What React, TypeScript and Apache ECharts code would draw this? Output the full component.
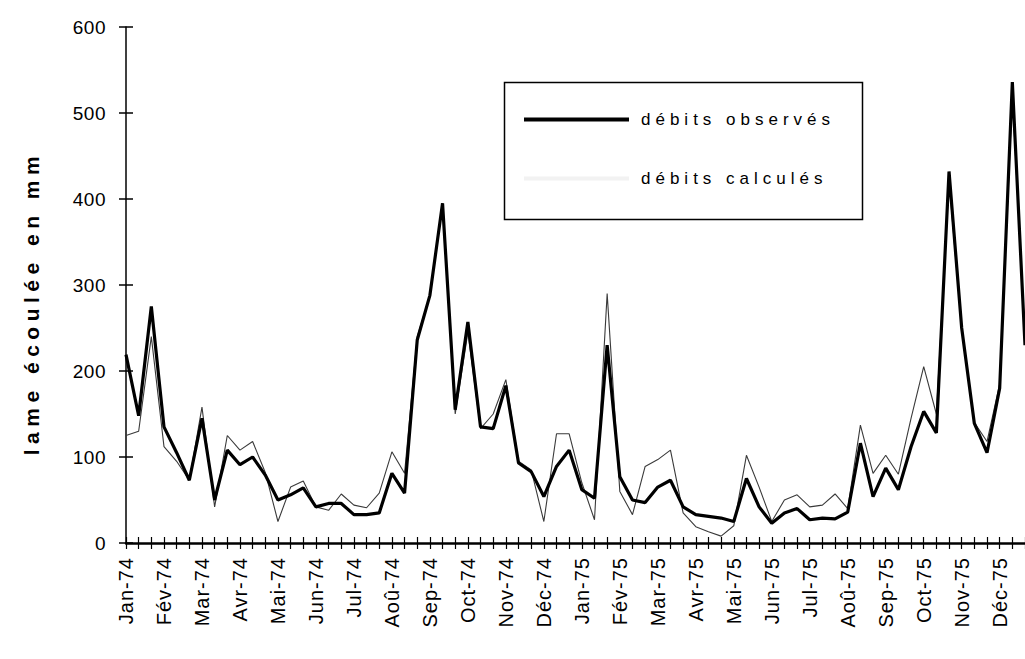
import React, { useEffect, useRef } from "react";
import * as echarts from "echarts";

const months = ["Jan", "Fév", "Mar", "Avr", "Mai", "Jun", "Jul", "Aoû", "Sep", "Oct", "Nov", "Déc"];
const years = ["74", "75"];
const dekads = [1, 2, 3];
const yTicks = [0, 100, 200, 300, 400, 500, 600];

// lame écoulée (mm) par décade
const observes = [
  219, 148, 275, 135, 105, 73, 145, 50, 108, 91, 100, 79,
  50, 56, 64, 42, 46, 46, 33, 33, 35, 81, 58, 236,
  288, 395, 155, 257, 135, 133, 183, 93, 83, 54, 89, 108,
  62, 52, 230, 77, 50, 47, 65, 73, 42, 33, 31, 29,
  25, 75, 42, 23, 35, 40, 27, 29, 28, 36, 116, 54,
  87, 62, 112, 153, 128, 432, 250, 139, 105, 180, 536, 230,
];
const calcules = [
  125, 130, 240, 112, 95, 73, 158, 42, 125, 108, 118, 82,
  25, 65, 72, 42, 38, 57, 44, 41, 58, 106, 81, 240,
  288, 395, 150, 245, 133, 150, 190, 95, 85, 25, 127, 127,
  70, 27, 290, 60, 33, 89, 97, 108, 35, 19, 13, 8,
  20, 102, 65, 25, 50, 56, 42, 44, 57, 40, 137, 81,
  102, 80, 145, 205, 150, 420, 250, 140, 118, 185, 520, 240,
];

const categories: string[] = [];
years.forEach((y) =>
  months.forEach((m) =>
    dekads.forEach((d) => categories.push(d === 1 ? `${m}-${y}` : `${m}-${y} d${d}`))
  )
);

const FONT = "'Liberation Sans', Arial, Helvetica, sans-serif";
const Y_NAME = "lame écoulée en mm";

export default function App() {
  const ref = useRef<HTMLDivElement>(null);
  useEffect(() => {
    if (!ref.current) return;
    const chart = echarts.init(ref.current, null, { renderer: "svg" });
    const spaceTexts = () => {
      const root = ref.current;
      if (!root) return;
      root.querySelectorAll("text").forEach((t) => {
        const s = t.textContent || "";
        if (s === Y_NAME) {
          t.setAttribute("letter-spacing", "5.5");
          t.setAttribute("dx", "-18");
        } else if (s.startsWith("débits")) t.setAttribute("letter-spacing", "5");
        else if (/-\d\d$/.test(s)) t.setAttribute("letter-spacing", "1");
        else if (/^\d+$/.test(s)) t.setAttribute("letter-spacing", "0.5");
      });
    };
    chart.on("finished", spaceTexts);
    chart.setOption({
      animation: false,
      backgroundColor: "#ffffff",
      grid: { left: 126, right: -5, top: 27, bottom: 116, containLabel: false },
      legend: {
        orient: "vertical",
        left: 519,
        top: 106,
        icon: "rect",
        itemWidth: 105,
        itemHeight: 4,
        itemGap: 42,
        textStyle: { fontSize: 17, fontFamily: FONT, color: "#000", padding: [0, 0, 0, 7] },
        data: [
          { name: "débits observés", itemStyle: { color: "#000" } },
          { name: "débits calculés", itemStyle: { color: "#f2f2f2" } },
        ],
      },
      graphic: [
        {
          type: "rect",
          left: 502,
          top: 80,
          shape: { width: 358, height: 137 },
          style: { fill: "none", stroke: "#000", lineWidth: 1.5 },
          z: 10,
        },
      ],
      xAxis: [
        {
          type: "category",
          data: categories,
          boundaryGap: false,
          position: "bottom",
          axisLine: { show: true, onZero: false, lineStyle: { color: "#000", width: 2.5 } },
          axisTick: { show: true, interval: 0, length: 6, lineStyle: { color: "#000", width: 1.2 } },
          axisLabel: {
            interval: 2,
            rotate: 90,
            margin: 14,
            fontSize: 20,
            fontFamily: FONT,
            color: "#000",
          },
          splitLine: { show: false },
        },
        {
          type: "category",
          data: categories,
          boundaryGap: false,
          position: "bottom",
          axisLine: { show: false, onZero: false },
          axisTick: { show: true, inside: true, interval: 0, length: 6, lineStyle: { color: "#000", width: 1.2 } },
          axisLabel: { show: false },
          splitLine: { show: false },
        },
      ],
      yAxis: [
        {
          type: "value",
          min: yTicks[0],
          max: yTicks[yTicks.length - 1],
          interval: 100,
          position: "left",
          name: Y_NAME,
          nameLocation: "middle",
          nameRotate: 90,
          nameGap: 84,
          nameTextStyle: { fontSize: 21, fontFamily: FONT, color: "#000", fontWeight: "bold" },
          axisLine: { show: true, onZero: false, lineStyle: { color: "#000", width: 1.5 } },
          axisTick: { show: true, length: 7, lineStyle: { color: "#000", width: 1.5 } },
          axisLabel: { margin: 20, fontSize: 19, fontFamily: FONT, color: "#000" },
          splitLine: { show: false },
        },
        {
          type: "value",
          min: yTicks[0],
          max: yTicks[yTicks.length - 1],
          interval: 100,
          position: "left",
          axisLine: { show: false, onZero: false },
          axisTick: { show: true, inside: true, length: 7, lineStyle: { color: "#000", width: 1.5 } },
          axisLabel: { show: false },
          splitLine: { show: false },
        },
      ],
      series: [
        {
          name: "débits calculés",
          type: "line",
          data: calcules,
          symbol: "none",
          lineStyle: { color: "#3a3a3a", width: 1.1 },
          itemStyle: { color: "#3a3a3a" },
          z: 2,
        },
        {
          name: "débits observés",
          type: "line",
          data: observes,
          symbol: "none",
          lineStyle: { color: "#000", width: 3.2 },
          itemStyle: { color: "#000" },
          z: 3,
        },
      ],
    });
    spaceTexts();
    return () => chart.dispose();
  }, []);
  return (
    <div
      ref={ref}
      style={{ position: "absolute", left: 0, top: 0, width: 1025, height: 659, background: "#fff" }}
    />
  );
}
